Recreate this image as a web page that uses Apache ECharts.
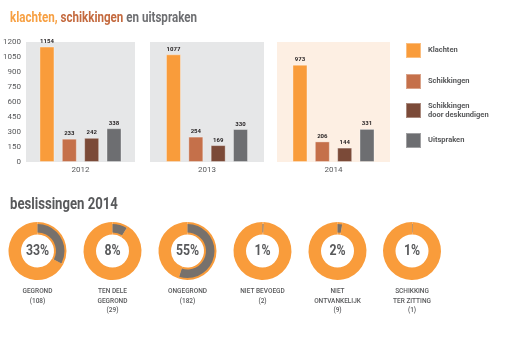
<!DOCTYPE html>
<html><head><meta charset="utf-8">
<script src="https://cdn.jsdelivr.net/npm/echarts@6/dist/echarts.min.js"></script>
<style>html,body{margin:0;padding:0;background:#fff}#c{width:521px;height:342px}</style>
</head><body><div id="c"></div>
<script>
const years = ['2012', '2013', '2014'];
const seriesNames = ['Klachten', 'Schikkingen', 'Schikkingen door deskundigen', 'Uitspraken'];
const klachten = [1154, 1077, 973];
const schikkingen = [233, 254, 206];
const deskundigen = [242, 169, 144];
const uitspraken = [338, 330, 331];
const yMin = 0, yMax = 1200, yStep = 150;

const beslissingLabels = ['GEGROND\n(108)', 'TEN DELE\nGEGROND\n(29)', 'ONGEGROND\n(182)', 'NIET BEVOEGD\n(2)', 'NIET\nONTVANKELIJK\n(9)', 'SCHIKKING\nTER ZITTING\n(1)'];
const beslissingCounts = [108, 29, 182, 2, 9, 1];
const beslissingPct = ['33%', '8%', '55%', '1%', '2%', '1%'];

const colors = ['#f99c3b', '#c5704a', '#7b4a38', '#6d6e71'];
const greyTxt = '#58595b';
const FONT = 'Roboto,sans-serif';
const values = [klachten, schikkingen, deskundigen, uitspraken];

const gridPos = [{left: 23, width: 112}, {left: 150, width: 114}, {left: 277, width: 113}];
const gridBg = ['#e6e7e8', '#e6e7e8', '#fdefe3'];

const grid = gridPos.map((g, i) => ({left: g.left, width: g.width, top: 42, height: 120, show: true, backgroundColor: gridBg[i], borderWidth: 0}));
const xAxis = years.map((y, i) => ({
  type: 'category', gridIndex: i, data: [y],
  axisLine: {show: false}, axisTick: {show: false},
  axisLabel: {color: greyTxt, fontSize: 8, fontFamily: FONT, margin: 4}
}));
const yAxis = years.map((y, i) => ({
  type: 'value', gridIndex: i, min: yMin, max: yMax, interval: yStep,
  splitLine: {show: false}, axisLine: {show: false}, axisTick: {show: false},
  axisLabel: {show: i === 0, color: greyTxt, fontSize: 8, fontFamily: FONT, margin: 5, formatter: v => String(v)}
}));

const series = [];
years.forEach((y, i) => {
  seriesNames.forEach((n, k) => {
    series.push({
      type: 'bar', name: n, xAxisIndex: i, yAxisIndex: i,
      data: [values[k][i]], barWidth: 15, barGap: '49%',
      itemStyle: {color: colors[k], borderColor: 'rgba(255,255,255,0.35)', borderWidth: 1},
      label: {show: true, position: 'top', distance: 2, fontSize: 6, fontWeight: 'bold', color: '#231f20', fontFamily: FONT},
      emphasis: {disabled: true}, animation: false
    });
  });
});

const total = beslissingCounts.reduce((a, b) => a + b, 0);
const cx = [37.5, 112.5, 187.5, 262.5, 337.5, 412];
const cy = 251;
const graphic = [
  {type: 'text', x: 10, y: 18, scaleX: 0.8, silent: true,
   style: {text: '{a|klachten, }{b|schikkingen }{c|en uitspraken}', verticalAlign: 'middle', align: 'left',
     rich: {
       a: {fill: '#f7a043', fontSize: 14.5, fontWeight: 'bold', fontFamily: FONT},
       b: {fill: '#c46a3f', fontSize: 14.5, fontWeight: 'bold', fontFamily: FONT},
       c: {fill: '#6d6e71', fontSize: 14.5, fontWeight: 'bold', fontFamily: FONT}}}},
  {type: 'text', x: 10, y: 205, scaleX: 0.82, silent: true,
   style: {text: 'beslissingen 2014', verticalAlign: 'middle', align: 'left', fill: greyTxt,
     font: 'bold 16px ' + FONT}}
];
beslissingCounts.forEach((c, i) => {
  series.push({
    type: 'pie', center: [cx[i], cy], radius: [16.5, 29], startAngle: 90, silent: true, animation: false,
    labelLine: {show: false}, label: {show: false},
    data: [{value: c, itemStyle: {color: colors[0]}}, {value: total - c, itemStyle: {color: colors[0]}}]
  });
  series.push({
    type: 'pie', center: [cx[i], cy], radius: [18.5, 27], startAngle: 90, silent: true, animation: false,
    label: {show: false}, labelLine: {show: false}, minAngle: 0,
    data: [{value: c, itemStyle: {color: '#77716c'}}, {value: total - c, itemStyle: {color: 'rgba(0,0,0,0)'}}]
  });
  graphic.push({type: 'text', x: cx[i], y: cy + 0.5, scaleX: 0.82, silent: true, z: 10,
    style: {text: beslissingPct[i], align: 'center', verticalAlign: 'middle', fill: greyTxt,
      font: 'bold 15px ' + FONT}});
  graphic.push({type: 'text', x: cx[i], y: 287, silent: true,
    style: {text: beslissingLabels[i], align: 'center', verticalAlign: 'top', fill: greyTxt,
      font: '500 6.5px ' + FONT, lineHeight: 9.5}});
});

const legendTops = [42, 73, 102, 132];
const legendText = ['Klachten', 'Schikkingen', 'Schikkingen\ndoor deskundigen', 'Uitspraken'];
const legend = seriesNames.map((n, k) => ({
  data: [n], left: 405, top: legendTops[k], orient: 'vertical', padding: 0,
  itemWidth: 15, itemHeight: 15, icon: 'rect', selectedMode: false,
  formatter: () => legendText[k],
  textStyle: {color: greyTxt, fontSize: 7.5, fontWeight: 'bold', fontFamily: FONT, lineHeight: 8.5, padding: [0, 0, 0, 2]}
}));

const chart = echarts.init(document.getElementById('c'), null, {renderer: 'canvas'});
chart.setOption({animation: false, backgroundColor: '#fff', legend, grid, xAxis, yAxis, series, graphic});
</script></body></html>
